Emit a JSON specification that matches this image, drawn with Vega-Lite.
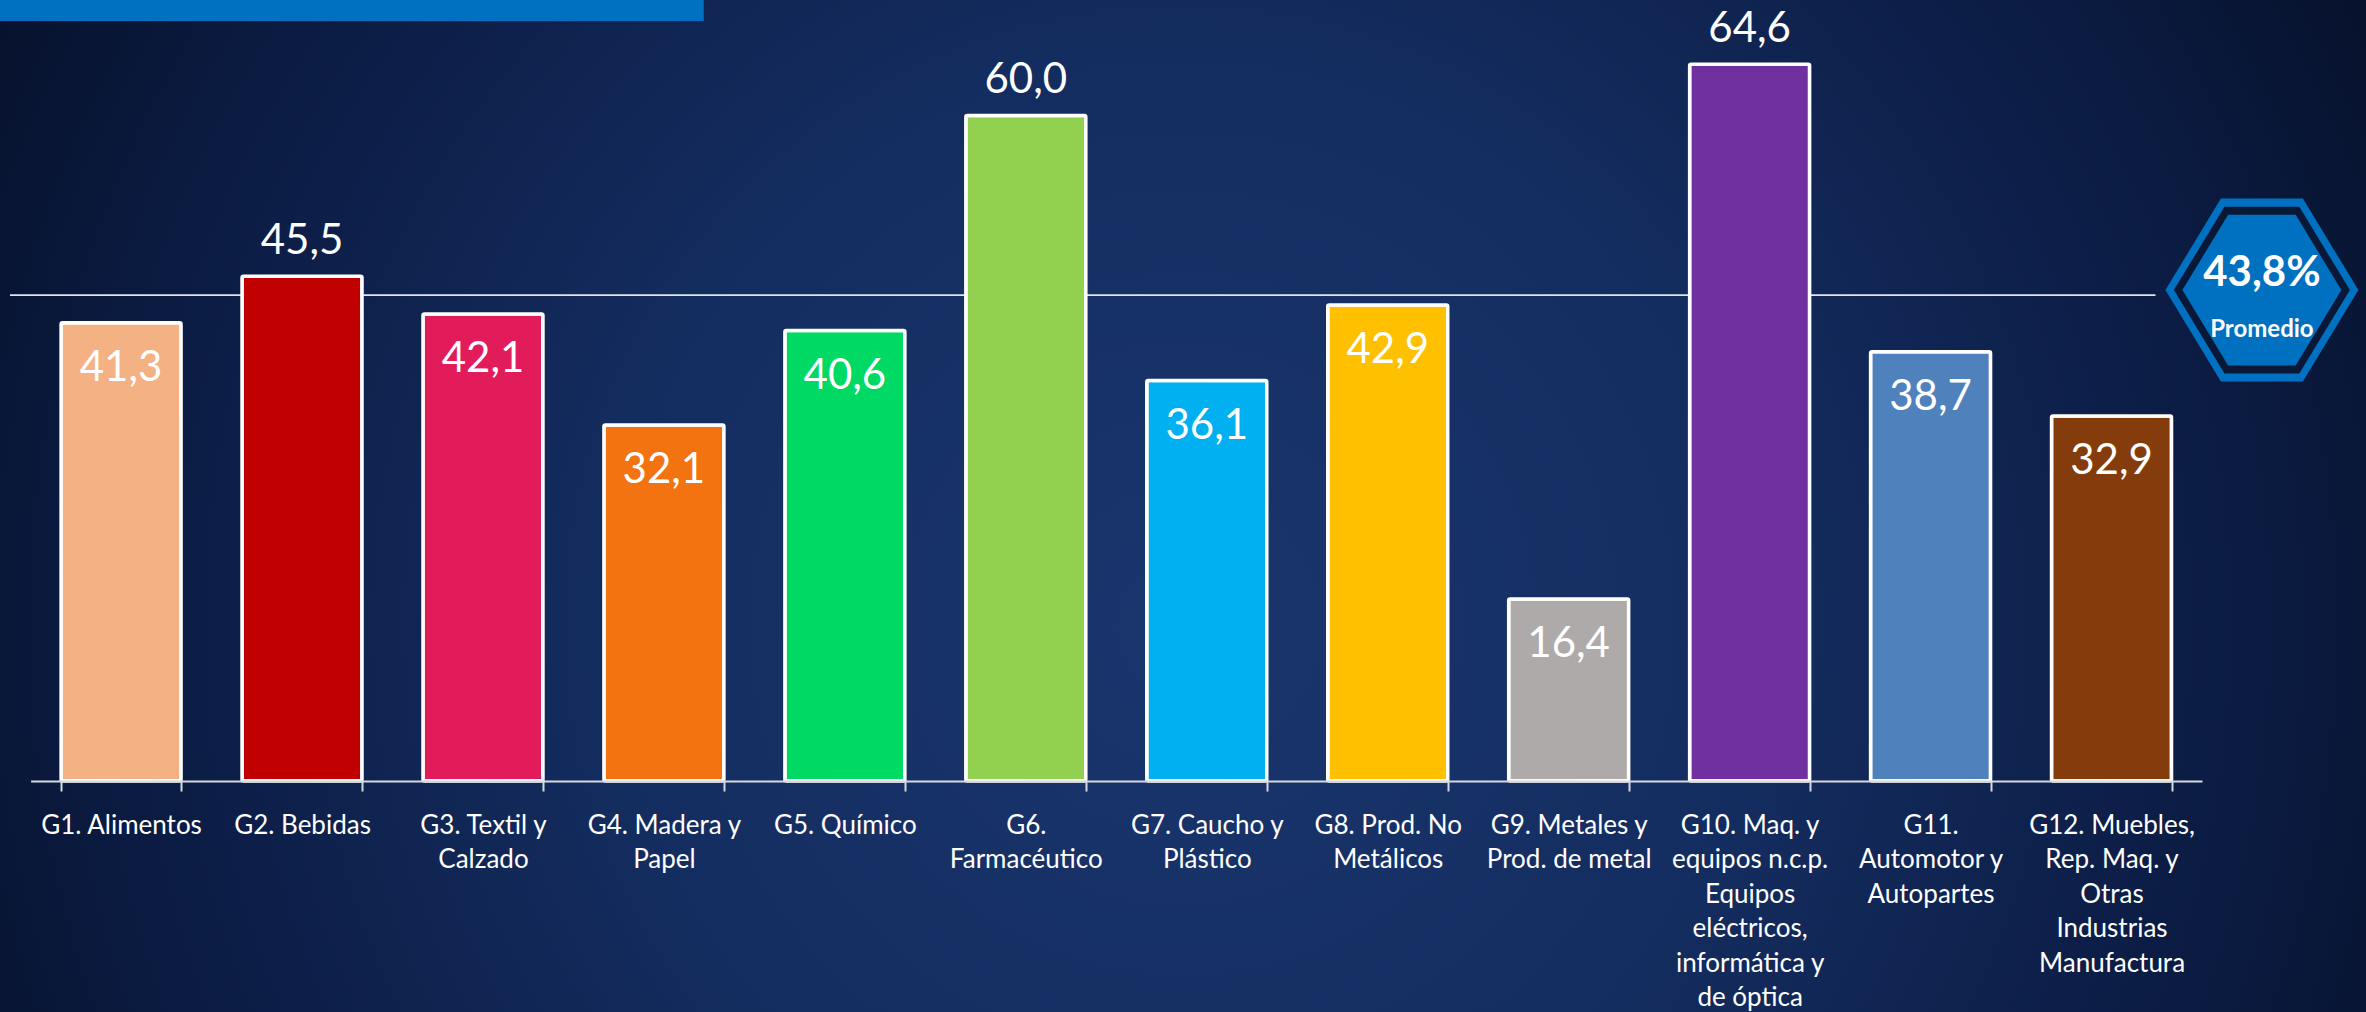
{
  "$schema": "https://vega.github.io/schema/vega-lite/v6.json",
  "width": 2366,
  "height": 1012,
  "autosize": {"type": "none"},
  "padding": 0,
  "background": "#0a1636",
  "config": {
    "view": {"stroke": null},
    "font": "Lato",
    "locale": {"number": {"decimal": ",", "thousands": ".", "grouping": [3], "currency": ["", ""]}}
  },
  "datasets": {
    "sectors": [
      {"code": "G1", "sector": "G1. Alimentos", "value": 41.3},
      {"code": "G2", "sector": "G2. Bebidas", "value": 45.5},
      {"code": "G3", "sector": "G3. Textil y\nCalzado", "value": 42.1},
      {"code": "G4", "sector": "G4. Madera y\nPapel", "value": 32.1},
      {"code": "G5", "sector": "G5. Químico", "value": 40.6},
      {"code": "G6", "sector": "G6.\nFarmacéutico", "value": 60.0},
      {"code": "G7", "sector": "G7. Caucho y\nPlástico", "value": 36.1},
      {"code": "G8", "sector": "G8. Prod. No\nMetálicos", "value": 42.9},
      {"code": "G9", "sector": "G9. Metales y\nProd. de metal", "value": 16.4},
      {"code": "G10", "sector": "G10. Maq. y\nequipos n.c.p.\nEquipos\neléctricos,\ninformática y\nde óptica", "value": 64.6},
      {"code": "G11", "sector": "G11.\nAutomotor y\nAutopartes", "value": 38.7},
      {"code": "G12", "sector": "G12. Muebles,\nRep. Maq. y\nOtras\nIndustrias\nManufactura", "value": 32.9}
    ],
    "average": [{"avg": 43.8, "avg_label": "43,8%", "caption": "Promedio"}]
  },
  "layer": [
    {
      "data": {"values": [{}]},
      "mark": {
        "type": "rect",
        "fill": {
          "gradient": "radial",
          "x1": 0.5, "y1": 0.55, "r1": 0,
          "x2": 0.5, "y2": 0.55, "r2": 0.6,
          "stops": [
            {"offset": 0, "color": "#1a366e"},
            {"offset": 0.4, "color": "#142d60"},
            {"offset": 0.75, "color": "#0b1b42"},
            {"offset": 1, "color": "#050f26"}
          ]
        }
      },
      "encoding": {}
    },
    {
      "data": {"values": [{}]},
      "mark": {"type": "rect", "color": "#0070c0"},
      "encoding": {
        "x": {"datum": -0.3, "type": "quantitative", "scale": {"domain": [0, 12], "range": [30.6, 2202], "nice": false, "zero": false}, "axis": null},
        "x2": {"datum": 3.72},
        "y": {"datum": 68.5, "type": "quantitative", "scale": {"domain": [0, 70.4], "range": [781, 0], "nice": false}, "axis": null},
        "y2": {"datum": 71}
      }
    },
    {
      "data": {"name": "average"},
      "mark": {"type": "rule", "color": "#dfe5f0", "strokeWidth": 1.6},
      "encoding": {
        "x": {"datum": -0.114, "type": "quantitative", "scale": {"domain": [0, 12], "range": [30.6, 2202], "nice": false, "zero": false}, "axis": null},
        "x2": {"datum": 11.743},
        "y": {"field": "avg", "type": "quantitative", "scale": {"domain": [0, 70.4], "range": [781, 0], "nice": false}, "axis": null}
      }
    },
    {
      "data": {"name": "sectors"},
      "encoding": {
        "x": {
          "field": "sector", "type": "nominal", "sort": null,
          "scale": {"range": [30.6, 2202], "paddingInner": 0.337, "paddingOuter": 0.1685},
          "axis": {
            "title": null, "labelAngle": 0, "labelExpr": "split(datum.label, '\\n')",
            "labelFont": "Lato", "labelFontSize": 26, "labelColor": "white", "labelLineHeight": 34.5,
            "labelLimit": 0, "labelOverlap": false, "labelBaseline": "alphabetic", "labelPadding": 42,
            "domainColor": "#d5d9e2", "domainWidth": 2, "tickColor": "#d5d9e2", "tickWidth": 2,
            "tickSize": 10, "tickBand": "extent", "offset": -231, "grid": false, "zindex": 1
          }
        },
        "y": {"field": "value", "type": "quantitative", "scale": {"domain": [0, 70.4], "range": [781, 0], "nice": false}, "axis": null}
      },
      "layer": [
        {
          "mark": {"type": "bar", "stroke": "white", "strokeWidth": 3.5, "cornerRadius": 1.5},
          "encoding": {
            "color": {
              "field": "code", "type": "nominal", "legend": null,
              "scale": {
                "domain": ["G1", "G2", "G3", "G4", "G5", "G6", "G7", "G8", "G9", "G10", "G11", "G12"],
                "range": ["#f4b183", "#c00000", "#e21c5b", "#f37310", "#00d964", "#92d050", "#00b0f0", "#ffc000", "#aeaaaa", "#7030a0", "#4f81bd", "#843c0c"]
              }
            }
          }
        },
        {
          "transform": [{"filter": "datum.value <= 43.8"}],
          "mark": {"type": "text", "color": "white", "fontSize": 42, "font": "Lato", "baseline": "alphabetic", "align": "center", "dy": 58},
          "encoding": {"text": {"field": "value", "type": "quantitative", "format": ".1f"}}
        },
        {
          "transform": [{"filter": "datum.value > 43.8"}],
          "mark": {"type": "text", "color": "white", "fontSize": 42, "font": "Lato", "baseline": "alphabetic", "align": "center", "dy": -22},
          "encoding": {"text": {"field": "value", "type": "quantitative", "format": ".1f"}}
        }
      ]
    },
    {
      "data": {"name": "average"},
      "layer": [
        {"mark": {"type": "point", "filled": true, "opacity": 1, "strokeWidth": 0, "color": "#0070c0", "size": 37249, "shape": "M-1,0L-0.425,-0.948L0.425,-0.948L1,0L0.425,0.948L-0.425,0.948Z"}},
        {"mark": {"type": "point", "filled": true, "opacity": 1, "strokeWidth": 0, "color": "#0a1838", "size": 30976, "shape": "M-1,0L-0.425,-0.948L0.425,-0.948L1,0L0.425,0.948L-0.425,0.948Z"}},
        {"mark": {"type": "point", "filled": true, "opacity": 1, "strokeWidth": 0, "color": "#0070c0", "size": 25281, "shape": "M-1,0L-0.425,-0.948L0.425,-0.948L1,0L0.425,0.948L-0.425,0.948Z"}},
        {"mark": {"type": "text", "color": "white", "font": "Lato", "fontWeight": "bold", "fontSize": 42, "baseline": "alphabetic", "align": "center", "dy": -4},
         "encoding": {"text": {"field": "avg_label"}}},
        {"mark": {"type": "text", "color": "white", "font": "Lato", "fontWeight": "bold", "fontSize": 24, "baseline": "alphabetic", "align": "center", "dy": 47},
         "encoding": {"text": {"field": "caption"}}}
      ],
      "encoding": {
        "x": {"datum": 12.331, "type": "quantitative", "scale": {"domain": [0, 12], "range": [30.6, 2202], "nice": false, "zero": false}, "axis": null},
        "y": {"field": "avg", "type": "quantitative", "scale": {"domain": [0, 70.4], "range": [781, 0], "nice": false}, "axis": null},
        "yOffset": {"value": -5}
      }
    }
  ],
  "resolve": {"scale": {"x": "independent"}}
}
